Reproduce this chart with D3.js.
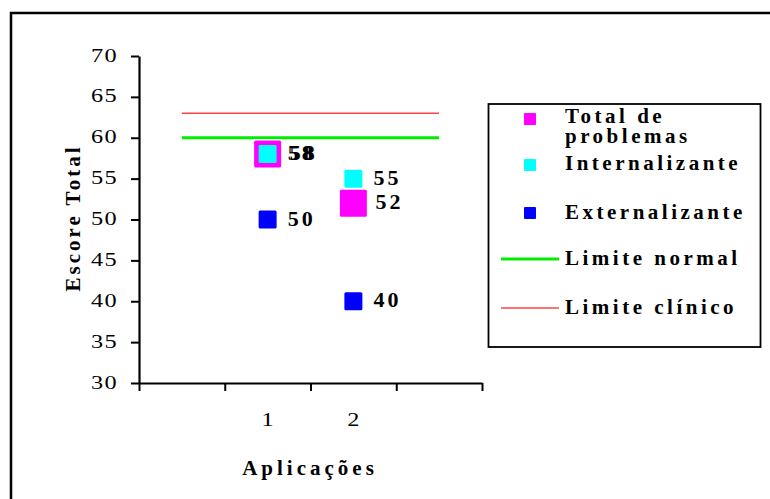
<!DOCTYPE html>
<html><head><meta charset="utf-8">
<script src="https://cdn.jsdelivr.net/npm/d3@7"></script>
<style>
body{margin:0;background:#fff}
svg{display:block}
text{font-family:"Liberation Serif","Times New Roman",serif;fill:#000}
</style>
</head><body>
<svg id="chart" width="770" height="499"></svg>
<script>
// Applications (x categories)
const categories = [1, 2];
// Scores per series
const totalProblemas = [58, 52];
const internalizante = [58, 55];
const externalizante = [50, 40];
// Reference limits
const limiteNormal = 60;
const limiteClinico = 63;
// Axis ticks
const yTickValues = [30, 35, 40, 45, 50, 55, 60, 65, 70];
const xBoundaryTicks = [-0.5, 0.5, 1.5, 2.5, 3.5];
// Legend entries
const seriesLabels = ["Total de problemas", "Internalizante", "Externalizante"];
const limitLabels = ["Limite normal", "Limite clínico"];

const colors = {total: "#ff00ff", intern: "#00ffff", extern: "#0000ff", normal: "#00ee00", clinico: "#ff4444"};

const svg = d3.select("#chart");

// outer frame
svg.append("rect").attr("x", 11).attr("y", 13).attr("width", 820).attr("height", 520)
  .attr("fill", "none").attr("stroke", "#000").attr("stroke-width", 2.5);

const x = d3.scaleLinear().domain([-0.5, 3.5]).range([139, 482]);
const y = d3.scaleLinear().domain([30, 70]).range([383, 56]);

const TX = 1.35; // horizontal widening of the tick digits

// Y axis
const yAxis = svg.append("g").attr("transform", "translate(139,0)")
  .call(d3.axisLeft(y).tickValues(yTickValues).tickSize(8).tickSizeOuter(0).tickPadding(0));
yAxis.select(".domain").attr("stroke-width", 2.2);
yAxis.selectAll(".tick line").attr("stroke-width", 2);
yAxis.selectAll(".tick text")
  .attr("x", -21 / TX).attr("dy", "0.28em")
  .attr("transform", `scale(${TX},1)`)
  .style("font-size", "18px").style("letter-spacing", "1px")
  .style("font-family", "'Liberation Serif',serif").attr("fill", "#000");

// X axis (ticks mark the boundaries between categories)
const xAxis = svg.append("g").attr("transform", "translate(0,383)")
  .call(d3.axisBottom(x).tickValues(xBoundaryTicks).tickSize(8).tickSizeOuter(0).tickFormat(""));
xAxis.select(".domain").attr("stroke-width", 2.2);
xAxis.selectAll(".tick line").attr("stroke-width", 2);

// category labels
svg.selectAll("text.cat").data(categories).enter().append("text")
  .attr("class", "cat")
  .attr("transform", d => `translate(${x(d)},426) scale(${TX},1)`)
  .attr("text-anchor", "middle")
  .style("font-size", "18px")
  .text(d => d);

// axis titles
svg.append("text")
  .attr("x", 310).attr("y", 475).attr("text-anchor", "middle")
  .style("font-size", "21px").style("font-weight", "bold").style("letter-spacing", "4px")
  .text("Aplicações");
svg.append("text")
  .attr("transform", "translate(80,218) rotate(-90)").attr("text-anchor", "middle")
  .style("font-size", "21px").style("font-weight", "bold").style("letter-spacing", "3px")
  .text("Escore Total");

// limit lines
svg.append("line").attr("x1", x(0)).attr("x2", x(3))
  .attr("y1", y(limiteClinico)).attr("y2", y(limiteClinico))
  .attr("stroke", colors.clinico).attr("stroke-width", 1.3);
svg.append("line").attr("x1", x(0)).attr("x2", x(3))
  .attr("y1", y(limiteNormal)).attr("y2", y(limiteNormal))
  .attr("stroke", colors.normal).attr("stroke-width", 2.8);

// markers and value labels
const series = [
  {values: totalProblemas, color: colors.total, size: 27, offset: 22},
  {values: internalizante, color: colors.intern, size: 18, offset: 20},
  {values: externalizante, color: colors.extern, size: 18, offset: 20}
];
series.forEach(s => {
  const pts = categories.map((c, i) => ({c, v: s.values[i]}));
  svg.append("g").selectAll("rect").data(pts).enter().append("rect")
    .attr("x", d => x(d.c) - s.size / 2).attr("y", d => y(d.v) - s.size / 2)
    .attr("width", s.size).attr("height", s.size).attr("rx", 1.5)
    .attr("fill", s.color);
});
series.forEach(s => {
  const pts = categories.map((c, i) => ({c, v: s.values[i]}));
  svg.append("g").selectAll("text").data(pts).enter().append("text")
    .attr("x", d => x(d.c) + s.offset).attr("y", d => y(d.v) + 6)
    .style("font-size", "22px").style("font-weight", "bold").style("letter-spacing", "3px")
    .text(d => d.v);
});

// legend
const lg = svg.append("g");
lg.append("rect").attr("x", 488.5).attr("y", 104).attr("width", 272).attr("height", 243)
  .attr("fill", "#fff").attr("stroke", "#000").attr("stroke-width", 1.8);
const legendText = (lines, baseline) => {
  const t = lg.append("text").attr("x", 565).attr("y", baseline)
    .style("font-size", "21px").style("font-weight", "bold").style("letter-spacing", "3.5px");
  lines.forEach((ln, i) => t.append("tspan").attr("x", 565).attr("dy", i ? 20 : 0).text(ln));
};
const seriesColors = [colors.total, colors.intern, colors.extern];
const markerY = [119, 165, 213];
seriesLabels.forEach((name, i) => {
  lg.append("rect").attr("x", 524).attr("y", markerY[i] - 6).attr("width", 12).attr("height", 12)
    .attr("rx", 1).attr("fill", seriesColors[i]);
});
legendText(["Total de", "problemas"], 123);
legendText([seriesLabels[1]], 170);
legendText([seriesLabels[2]], 219);
const limitColors = [colors.normal, colors.clinico];
const limitWidths = [2.8, 1.3];
const lineY = [259, 308];
limitLabels.forEach((name, i) => {
  lg.append("line").attr("x1", 501).attr("x2", 559).attr("y1", lineY[i]).attr("y2", lineY[i])
    .attr("stroke", limitColors[i]).attr("stroke-width", limitWidths[i]);
  legendText([name], lineY[i] + 6);
});
</script>
</body></html>
